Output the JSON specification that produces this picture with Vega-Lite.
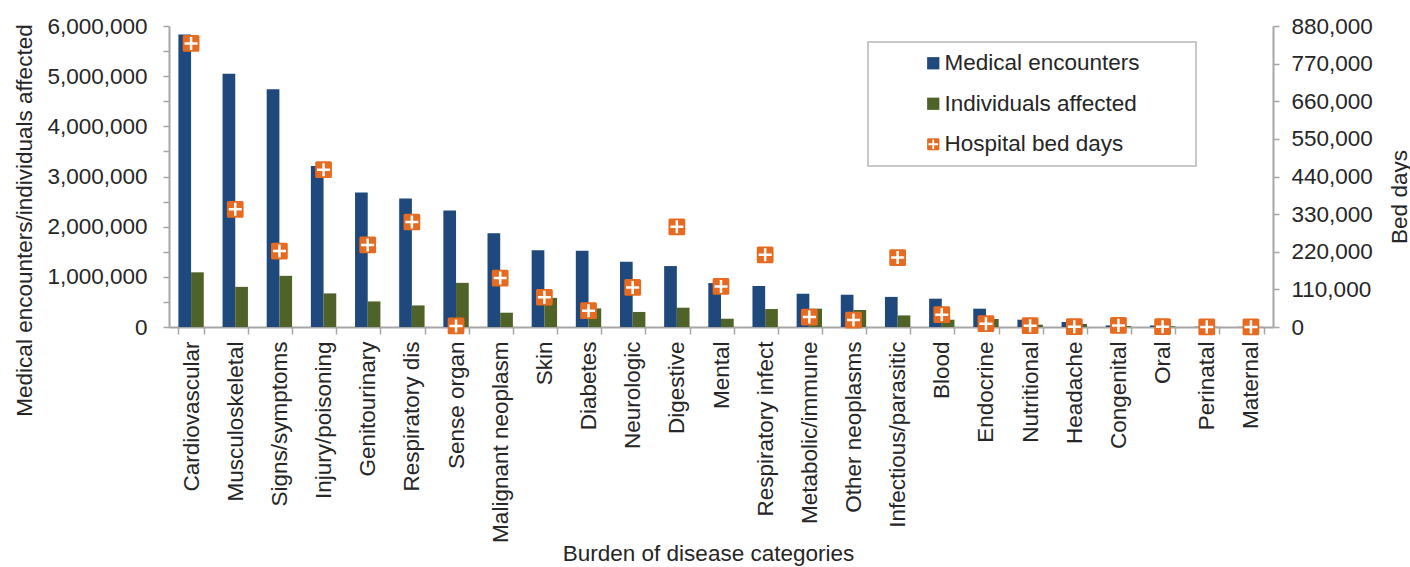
{
  "$schema": "https://vega.github.io/schema/vega-lite/v6.json",
  "width": 1104,
  "height": 301,
  "autosize": {"type": "none"},
  "padding": {"left": 169, "top": 26, "right": 137, "bottom": 240},
  "background": "white",
  "config": {
    "font": "Liberation Sans",
    "view": {"stroke": null},
    "axis": {
      "labelFont": "Liberation Sans",
      "titleFont": "Liberation Sans",
      "labelFontSize": 22.5,
      "titleFontSize": 22.5,
      "titleFontWeight": "normal",
      "labelColor": "#262626",
      "titleColor": "#262626",
      "domainColor": "#a6a6a6",
      "tickColor": "#a6a6a6",
      "domainWidth": 2,
      "tickWidth": 1.5,
      "grid": false
    },
    "legend": {
      "strokeWidth": 2,
      "title": "\u00a0",
      "titleOrient": "right",
      "titleAngle": 0,
      "titlePadding": 46,
      "titleFontSize": 22.5,
      "orient": "none",
      "legendX": 699,
      "legendY": 16,
      "padding": 10,
      "rowPadding": 17.5,
      "symbolOffset": 44,
      "symbolSize": 150,
      "symbolStrokeWidth": 0,
      "labelOffset": 0,
      "labelLimit": 400,
      "labelFontSize": 22.5,
      "labelFont": "Liberation Sans",
      "labelColor": "#262626",
      "strokeColor": "#c8c8c8",
      "fillColor": "white"
    }
  },
  "datasets": {
    "bars": [
      {"category": "Cardiovascular", "series": "Medical encounters", "value": 5830000},
      {"category": "Cardiovascular", "series": "Individuals affected", "value": 1090000},
      {"category": "Musculoskeletal", "series": "Medical encounters", "value": 5050000},
      {"category": "Musculoskeletal", "series": "Individuals affected", "value": 800000},
      {"category": "Signs/symptoms", "series": "Medical encounters", "value": 4740000},
      {"category": "Signs/symptoms", "series": "Individuals affected", "value": 1020000},
      {"category": "Injury/poisoning", "series": "Medical encounters", "value": 3210000},
      {"category": "Injury/poisoning", "series": "Individuals affected", "value": 670000},
      {"category": "Genitourinary", "series": "Medical encounters", "value": 2680000},
      {"category": "Genitourinary", "series": "Individuals affected", "value": 510000},
      {"category": "Respiratory dis", "series": "Medical encounters", "value": 2560000},
      {"category": "Respiratory dis", "series": "Individuals affected", "value": 430000},
      {"category": "Sense organ", "series": "Medical encounters", "value": 2320000},
      {"category": "Sense organ", "series": "Individuals affected", "value": 880000},
      {"category": "Malignant neoplasm", "series": "Medical encounters", "value": 1870000},
      {"category": "Malignant neoplasm", "series": "Individuals affected", "value": 285000},
      {"category": "Skin", "series": "Medical encounters", "value": 1530000},
      {"category": "Skin", "series": "Individuals affected", "value": 580000},
      {"category": "Diabetes", "series": "Medical encounters", "value": 1520000},
      {"category": "Diabetes", "series": "Individuals affected", "value": 370000},
      {"category": "Neurologic", "series": "Medical encounters", "value": 1300000},
      {"category": "Neurologic", "series": "Individuals affected", "value": 300000},
      {"category": "Digestive", "series": "Medical encounters", "value": 1215000},
      {"category": "Digestive", "series": "Individuals affected", "value": 385000},
      {"category": "Mental", "series": "Medical encounters", "value": 876000},
      {"category": "Mental", "series": "Individuals affected", "value": 165000},
      {"category": "Respiratory infect", "series": "Medical encounters", "value": 817000},
      {"category": "Respiratory infect", "series": "Individuals affected", "value": 358000},
      {"category": "Metabolic/immune", "series": "Medical encounters", "value": 663000},
      {"category": "Metabolic/immune", "series": "Individuals affected", "value": 365000},
      {"category": "Other neoplasms", "series": "Medical encounters", "value": 643000},
      {"category": "Other neoplasms", "series": "Individuals affected", "value": 339000},
      {"category": "Infectious/parasitic", "series": "Medical encounters", "value": 600000},
      {"category": "Infectious/parasitic", "series": "Individuals affected", "value": 231000},
      {"category": "Blood", "series": "Medical encounters", "value": 564000},
      {"category": "Blood", "series": "Individuals affected", "value": 145000},
      {"category": "Endocrine", "series": "Medical encounters", "value": 365000},
      {"category": "Endocrine", "series": "Individuals affected", "value": 160000},
      {"category": "Nutritional", "series": "Medical encounters", "value": 145000},
      {"category": "Nutritional", "series": "Individuals affected", "value": 46000},
      {"category": "Headache", "series": "Medical encounters", "value": 100000},
      {"category": "Headache", "series": "Individuals affected", "value": 60000},
      {"category": "Congenital", "series": "Medical encounters", "value": 32000},
      {"category": "Congenital", "series": "Individuals affected", "value": 20000},
      {"category": "Oral", "series": "Medical encounters", "value": 30000},
      {"category": "Oral", "series": "Individuals affected", "value": 15000},
      {"category": "Perinatal", "series": "Medical encounters", "value": 5000},
      {"category": "Perinatal", "series": "Individuals affected", "value": 3000},
      {"category": "Maternal", "series": "Medical encounters", "value": 3000},
      {"category": "Maternal", "series": "Individuals affected", "value": 2000}
    ],
    "beds": [
      {"category": "Cardiovascular", "series": "Hospital bed days", "beddays": 829000},
      {"category": "Musculoskeletal", "series": "Hospital bed days", "beddays": 344000},
      {"category": "Signs/symptoms", "series": "Hospital bed days", "beddays": 222000},
      {"category": "Injury/poisoning", "series": "Hospital bed days", "beddays": 460000},
      {"category": "Genitourinary", "series": "Hospital bed days", "beddays": 240000},
      {"category": "Respiratory dis", "series": "Hospital bed days", "beddays": 307000},
      {"category": "Sense organ", "series": "Hospital bed days", "beddays": 3000},
      {"category": "Malignant neoplasm", "series": "Hospital bed days", "beddays": 143000},
      {"category": "Skin", "series": "Hospital bed days", "beddays": 87000},
      {"category": "Diabetes", "series": "Hospital bed days", "beddays": 47600},
      {"category": "Neurologic", "series": "Hospital bed days", "beddays": 115700},
      {"category": "Digestive", "series": "Hospital bed days", "beddays": 293000},
      {"category": "Mental", "series": "Hospital bed days", "beddays": 118600},
      {"category": "Respiratory infect", "series": "Hospital bed days", "beddays": 211000},
      {"category": "Metabolic/immune", "series": "Hospital bed days", "beddays": 29200},
      {"category": "Other neoplasms", "series": "Hospital bed days", "beddays": 20400},
      {"category": "Infectious/parasitic", "series": "Hospital bed days", "beddays": 203000},
      {"category": "Blood", "series": "Hospital bed days", "beddays": 36000},
      {"category": "Endocrine", "series": "Hospital bed days", "beddays": 9600},
      {"category": "Nutritional", "series": "Hospital bed days", "beddays": 3800},
      {"category": "Headache", "series": "Hospital bed days", "beddays": 1000},
      {"category": "Congenital", "series": "Hospital bed days", "beddays": 4700},
      {"category": "Oral", "series": "Hospital bed days", "beddays": 1000},
      {"category": "Perinatal", "series": "Hospital bed days", "beddays": 300},
      {"category": "Maternal", "series": "Hospital bed days", "beddays": 300}
    ]
  },
  "layer": [
    {
      "data": {"name": "bars"},
      "mark": {"type": "bar"},
      "encoding": {
        "x": {
          "field": "category",
          "type": "nominal",
          "scale": {
            "domain": ["Cardiovascular", "Musculoskeletal", "Signs/symptoms", "Injury/poisoning", "Genitourinary", "Respiratory dis", "Sense organ", "Malignant neoplasm", "Skin", "Diabetes", "Neurologic", "Digestive", "Mental", "Respiratory infect", "Metabolic/immune", "Other neoplasms", "Infectious/parasitic", "Blood", "Endocrine", "Nutritional", "Headache", "Congenital", "Oral", "Perinatal", "Maternal"],
            "paddingInner": 0.425,
            "paddingOuter": 0.2125
          },
          "axis": {
            "title": "Burden of disease categories",
            "titleX": 539,
            "titleY": 233,
            "titleBaseline": "alphabetic",
            "titleAlign": "center",
            "labelAngle": -90,
            "labelPadding": 7,
            "labelLimit": 300,
            "tickSize": 7,
            "tickBand": "extent"
          }
        },
        "xOffset": {"field": "series", "type": "nominal", "sort": ["Medical encounters", "Individuals affected"]},
        "y": {
          "field": "value",
          "type": "quantitative",
          "scale": {"domain": [0, 6000000], "nice": false},
          "axis": {
            "orient": "left",
            "title": "Medical encounters/individuals affected",
            "values": [0, 500000, 1000000, 1500000, 2000000, 2500000, 3000000, 3500000, 4000000, 4500000, 5000000, 5500000, 6000000],
            "labelExpr": "datum.value % 1000000 === 0 ? format(datum.value, ',') : ''",
            "tickSize": 6,
            "labelPadding": 16,
            "titleAngle": 270,
            "titleX": -138,
            "titleY": 194,
            "titleBaseline": "alphabetic",
            "titleAlign": "center"
          }
        },
        "color": {
          "field": "series",
          "type": "nominal",
          "title": "\u00a0",
          "scale": {
            "domain": ["Medical encounters", "Individuals affected", "Hospital bed days"],
            "range": ["#1F497D", "#4F6228", "#E66A1F"]
          }
        }
      }
    },
    {
      "data": {"name": "beds"},
      "mark": {"type": "point", "shape": "square", "filled": true, "color": "white", "size": 200, "opacity": 1},
      "encoding": {
        "x": {"field": "category", "type": "nominal"},
        "y": {"field": "beddays", "type": "quantitative", "scale": {"domain": [0, 880000], "nice": false}, "axis": null}
      }
    },
    {
      "data": {"name": "beds"},
      "mark": {"type": "point", "filled": true, "size": 280, "opacity": 1},
      "encoding": {
        "x": {"field": "category", "type": "nominal"},
        "y": {
          "field": "beddays",
          "type": "quantitative",
          "scale": {"domain": [0, 880000], "nice": false},
          "axis": {
            "orient": "right",
            "title": "Bed days",
            "values": [0, 110000, 220000, 330000, 440000, 550000, 660000, 770000, 880000],
            "format": ",d",
            "tickSize": 6,
            "labelPadding": 12,
            "titleAngle": 270,
            "titleX": 133,
            "titleY": 170.5,
            "titleBaseline": "alphabetic",
            "titleAlign": "center"
          }
        },
        "color": {
          "field": "series",
          "type": "nominal",
          "title": "\u00a0",
          "scale": {
            "domain": ["Medical encounters", "Individuals affected", "Hospital bed days"],
            "range": ["#1F497D", "#4F6228", "#E66A1F"]
          }
        },
        "shape": {
          "field": "series",
          "type": "nominal",
          "title": "\u00a0",
          "scale": {
            "domain": ["Medical encounters", "Individuals affected", "Hospital bed days"],
            "range": ["square", "square", "M-0.82,-1L0.82,-1Q1,-1 1,-0.82L1,0.82Q1,1 0.82,1L-0.82,1Q-1,1 -1,0.82L-1,-0.82Q-1,-1 -0.82,-1Z M-0.15,-0.78L-0.15,-0.15L-0.78,-0.15L-0.78,0.15L-0.15,0.15L-0.15,0.78L0.15,0.78L0.15,0.15L0.78,0.15L0.78,-0.15L0.15,-0.15L0.15,-0.78Z"]
          }
        }
      }
    }
  ],
  "resolve": {"scale": {"y": "independent"}}
}
